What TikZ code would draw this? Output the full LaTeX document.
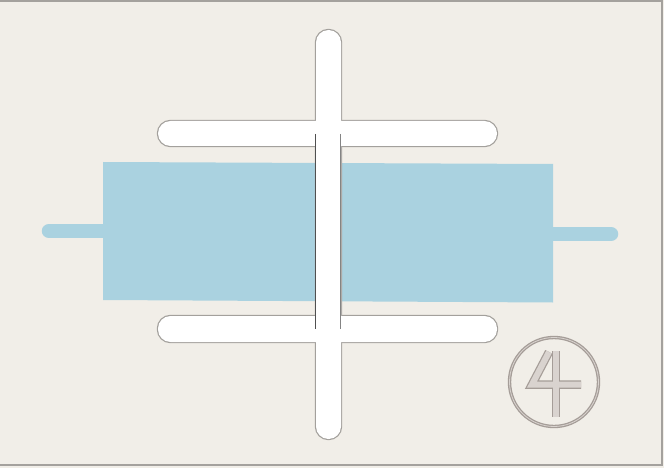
\documentclass[tikz,border=0pt]{standalone}
\definecolor{bgc}{HTML}{F1EEE8}
\definecolor{framec}{HTML}{A4A19D}
\definecolor{bluec}{HTML}{AAD2E0}
\definecolor{barc}{HTML}{A3A09C}
\definecolor{edgec}{HTML}{505050}
\definecolor{fourout}{HTML}{A59D98}
\definecolor{fourin}{HTML}{D9D3CF}
\tikzset{
  frameline/.style={draw=framec, line width=1.5pt},
  stick/.style={draw=bluec, line width=14.5pt, line cap=round},
  barline/.style={draw=barc, line width=2.4pt, rounded corners=12.5pt},
  barfill/.style={fill=white, rounded corners=12.5pt},
  edgeline/.style={draw=edgec, line width=1.4pt},
  fourstroke/.style={draw=fourout, line width=8.5pt, line join=miter},
  fourcore/.style={draw=fourin, line width=6pt, line join=miter},
}
\begin{document}
\begin{tikzpicture}[x=1pt,y=-1pt]
\useasboundingbox (0,0) rectangle (664,468);
\fill[bgc] (0,0) rectangle (664,468);
% frame
\draw[frameline] (0,0.8) -- (662,0.8) -- (662,465) -- (0,465);
% blue sticks and body
\draw[stick] (49,231) -- (110,231);
\draw[stick] (545,234) -- (611,234);
\fill[bluec] (103,162) -- (553,164) -- (553,302.5) -- (103,300) -- cycle;
% cross of white bars
\draw[barline] (316,30) rectangle (341,439);
\draw[barline] (158,121) rectangle (497,146);
\draw[barline] (158,316) rectangle (497,342);
\fill[barfill] (316,30) rectangle (341,439);
\fill[barfill] (158,121) rectangle (497,146);
\fill[barfill] (158,316) rectangle (497,342);
% dark edges of the vertical bar
\draw[edgeline] (315.5,134) -- (315.5,329);
\draw[edgeline, draw=edgec!70] (340.5,134) -- (340.5,329);
% circled four
\draw[draw=fourout, line width=1.3pt, double=fourin, double distance=0.8pt] (554,382) circle (44.5);
\draw[fourstroke] (549,352) -- (532,384.5) -- (581,384.5);
\draw[fourstroke] (556,351) -- (556,417);
\draw[fourcore] (549,352) -- (532,384.5) -- (581,384.5);
\draw[fourcore] (556,351) -- (556,417);
\end{tikzpicture}
\end{document}
